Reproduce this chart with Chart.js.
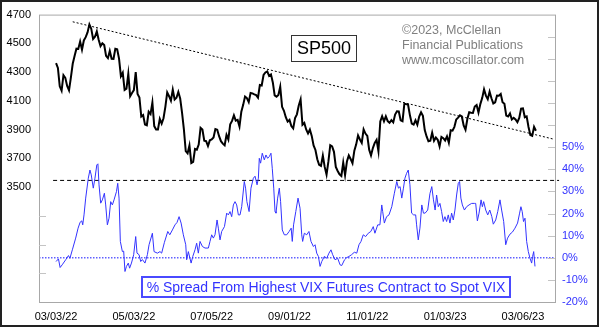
<!DOCTYPE html>
<html>
<head>
<meta charset="utf-8">
<script src="https://cdn.jsdelivr.net/npm/chart.js@4/dist/chart.umd.min.js"></script>
<style>
  html, body { margin: 0; padding: 0; background: #fff; }
  canvas { display: block; }
</style>
</head>
<body>
<canvas id="chart" width="600" height="328"></canvas>
<script>
// x values are trading-day numbers counted from 03/03/22
const tickDays = [0, 42, 84, 126, 168, 210, 252];
const tickLabels = ['03/03/22', '05/03/22', '07/05/22', '09/01/22', '11/01/22', '01/03/23', '03/06/23'];

// SP500 daily close, 03/03/22 .. 03/15/23 (one per trading day)
const spxClose = [
  4363, 4329, 4201, 4171, 4278, 4260, 4204, 4173, 4262, 4358, 4412, 4463, 4461, 4512, 4456, 4520, 4543, 4576, 4632, 4602, 4530,
  4546, 4583, 4525, 4481, 4500, 4488, 4413, 4397, 4447, 4393, 4392, 4462, 4459, 4394, 4272, 4296, 4175, 4184, 4288, 4132,
  4155, 4175, 4300, 4147, 4123, 3991, 4001, 3935, 3930, 4024, 4008, 4089, 3924, 3901, 3901, 3974, 3941, 3979, 4058, 4158, 4132,
  4101, 4177, 4109, 4121, 4161, 4116, 4018, 3901, 3750, 3735, 3790, 3667, 3675, 3765, 3760, 3796, 3912, 3900, 3822, 3819, 3785,
  3825, 3831, 3845, 3903, 3899, 3854, 3819, 3802, 3790, 3863, 3831, 3937, 3960, 3999, 3962, 3967, 3921, 4024, 4072, 4130,
  4119, 4091, 4155, 4152, 4145, 4140, 4122, 4210, 4207, 4280, 4297, 4305, 4274, 4284, 4228, 4138, 4129, 4141, 4199, 4058, 4031, 3986, 3955,
  3967, 3924, 3908, 3980, 4006, 4067, 4110, 3933, 3946, 3901, 3873, 3900, 3856, 3790, 3758, 3693, 3655, 3647, 3719, 3640, 3586,
  3678, 3791, 3783, 3745, 3640, 3612, 3589, 3577, 3670, 3583, 3678, 3720, 3695, 3666, 3753, 3797, 3859, 3831, 3807, 3901, 3872,
  3856, 3760, 3720, 3771, 3807, 3828, 3749, 3956, 3993, 3957, 3992, 3959, 3947, 3965, 3950, 4004, 4027, 4026, 3964, 3958, 4080,
  4077, 4072, 3999, 3941, 3934, 3964, 3934, 3991, 4020, 3995, 3896, 3852, 3818, 3822, 3878, 3822, 3845, 3829, 3783, 3849, 3840,
  3824, 3853, 3808, 3895, 3892, 3919, 3970, 3983, 3999, 3991, 3929, 3899, 3973, 4020, 4017, 4016, 4060, 4071, 4018, 4077,
  4119, 4180, 4136, 4111, 4164, 4118, 4082, 4090, 4137, 4136, 4148, 4090, 4079, 3997, 3991, 4012, 3970, 3982, 3970,
  3951, 3981, 4046, 4048, 3986, 3992, 3918, 3862, 3856, 3919, 3892
];

// % spread, highest VIX futures contract vs spot VIX
const spreadDay = [
  0, 1.3, 2.2, 3.3, 5.2, 6.7, 7.5, 8.8, 10.6, 11.9, 13, 13.9, 14.4, 15.1, 16, 17.4, 18.3, 19, 20.1, 21,
  22, 22.6, 23.2, 24.1, 25, 26.1, 26.8, 27.7, 28.6, 29.5, 30.4, 31.3, 32.6, 33.3, 34, 34.7, 35.8, 36.5, 37.2, 38,
  39, 39.7, 40.7, 41.9, 43, 43.7, 44.8, 45.7, 46.6, 48, 49.3, 50.2, 52, 52.9, 54.7, 56.1, 57, 58.5, 60.3, 61.4,
  62.8, 64.2, 65.3, 66.4, 67.5, 68.7, 70, 70.5, 71.4, 72.9, 73.8, 75, 75.9, 76.8, 77.7, 79, 80.4, 82.2, 83.1, 84,
  84.9, 85.8, 86.9, 87.6, 88.5, 89.4, 90.9, 92.1, 93, 93.9, 94.8, 95.7, 96.6, 97.5, 98.4, 99.3, 100.2, 101.6, 102.3, 103,
  104.2, 105.2, 106.5, 107.4, 108.5, 109.2, 109.7, 110.4, 111.3, 112.4, 113.3, 114.2, 115.1, 116, 116.7, 117.5, 118.2, 118.7, 119.6, 120.5,
  121.2, 122.1, 123.2, 124.5, 125.8, 126.9, 127.5, 128.2, 129.4, 130.6, 131.7, 132.6, 133.1, 134, 135.3, 136.5, 137.6, 138.9, 139.8, 140.7,
  141.6, 142.5, 143.4, 144.8, 146.1, 147.3, 148.4, 149.3, 150.6, 152, 153.3, 154.2, 155.7, 156.9, 158.1, 159.5, 161, 162.3, 163.5, 164.6,
  165.8, 167.1, 168.5, 169.9, 171.2, 172.1, 173.6, 174.8, 175.8, 176.3, 177.2, 178.4, 179.7, 181.2, 182.6, 183.9, 184.8, 185.7, 186.6, 187.5,
  188.3, 189.2, 190.1, 191, 191.9, 193, 194.1, 194.6, 195.5, 196.4, 197.4, 198.3, 199.2, 200.6, 201.8, 202.8, 203.7, 204.6, 205.4, 206.3,
  207.2, 208.1, 209, 209.9, 210.8, 211.7, 212.6, 213.5, 214.4, 215.3, 216.2, 217.1, 217.8, 218.5, 219.3, 220.4, 221.6, 222.9, 224.3, 225.8,
  226.5, 227.4, 228.3, 229.4, 230.1, 230.8, 231.9, 233, 234.1, 235.2, 236, 237.3, 238.4, 239.6, 240.5, 241.6, 242.7, 243.7, 245, 246.3,
  247.7, 249.1, 250.2, 250.9, 251.6, 252.3, 253.1, 254, 254.9, 255.8, 256.7, 257.2, 257.8, 258.5
];
const spreadPct = [
  -1.7, -0.5, -4.4, -3.2, -0.9, 1.0, -0.2, 3.6, 8.9, 13.4, 16.1, 16.7, 14.9, 19.4, 27, 36, 39.7, 37.5, 31.5, 36,
  42, 42.5, 33, 24.7, 26.2, 29.2, 23.9, 14.9, 17.9, 25.4, 23.9, 26.2, 29.9, 33.7, 27, 7.4, 2.8, 3.0, -6.2, -3.9,
  -2.4, -4.7, -2.4, 1.4, 9.6, 2.1, 1.4, -1.7, -0.8, -2.4, 1.4, 5.9, 11.1, 2.8, 2.1, 2.8, 2.1, 7.0, 11.9, 10.4,
  12.6, 14.9, 16, 18.6, 15.7, 10.4, 5.9, -0.9, 2.8, -2.4, 0.6, 3.6, 6.6, 2.1, 7.4, 5.1, 4.4, 4.4, 7.4, 10.4,
  8.9, 10.4, 17.1, 13.4, 8.1, 11.9, 14.1, 20.2, 19.4, 20.9, 18.6, 23.9, 25.4, 23.9, 19.4, 19.4, 23.1, 34.5, 31.5, 25.4,
  20.9, 31.5, 36, 36.9, 33, 36, 45, 42.8, 47.3, 44.3, 46.5, 45, 45.8, 47.3, 40.5, 31.5, 20.9, 20.2, 27, 31.5,
  25.4, 12.6, 10.4, 10.4, 11.9, 13.4, 7.4, 14.9, 20.9, 27, 22.4, 10.4, 7.4, 11.1, 10.4, 11.9, 7.4, 5.1, 5.9, 2.1,
  0.6, -3.9, -1.7, 0.6, -0.2, 2.1, 3.6, 1.4, -0.9, -0.2, -3.2, -3.5, -0.9, 0.1, 0.6, 1.4, 2.5, 2.1, 5.9, 7.4,
  10.4, 9.6, 11.1, 11.9, 14.1, 11.1, 14.9, 14.9, 23.9, 20.9, 15.7, 18.6, 19.4, 23.1, 29.2, 34.5, 31.5, 32.2, 27, 31.5,
  36, 38.2, 39.7, 33, 20.2, 19.4, 19.4, 14.9, 8.1, 13.4, 23.9, 20.2, 20.2, 21.6, 29, 32.2, 26.2, 21.6, 28.4, 23.1,
  24.6, 20.9, 16.4, 18.6, 16.4, 19.4, 15.7, 20.2, 17.1, 21.6, 28.4, 33.7, 34.5, 27, 23.9, 21.6, 23.1, 23.9, 24.6, 24.6,
  24.6, 16.7, 20.2, 26.2, 23.1, 25.4, 21.6, 19.4, 21.6, 18.6, 15.2, 17.1, 20.9, 26.2, 21.6, 16.4, 5.9, 8.9, 10.7, 11.6,
  13.4, 15.7, 20.2, 23.1, 20.9, 16.4, 17.9, 7.4, 2.8, -0.2, -2.4, 0.6, 2.8, -3.9
];

// dotted downtrend line on the SP500
const trendDay = [9, 268];
const trendVal = [4650, 3835];

// 35% reference level and the zero line
const refDay = [-1.6, 271.5];
const refPct = 35;
const zeroPct = 0;

const xMin = -9.2, xMax = 269.3;
const FONT = '"Liberation Sans", Arial, sans-serif';
Chart.defaults.font.family = FONT;

function toPoints(xs, ys) {
  return xs.map((x, i) => ({ x: x, y: Array.isArray(ys) ? ys[i] : ys }));
}

const decor = {
  id: 'decor',
  afterDatasetsDraw(chart) {
    const { ctx, chartArea: a, scales } = chart;
    ctx.save();

    // plot frame
    ctx.strokeStyle = '#a8a8a8';
    ctx.lineWidth = 1;
    ctx.strokeRect(a.left + 0.5, a.top + 0.5, a.right - a.left, a.bottom - a.top);

    // short tick marks drawn inside the frame
    ctx.strokeStyle = '#c4c4c4';
    ctx.beginPath();
    scales.y.ticks.forEach(t => {
      if (t.value > 2700 && t.value < 3500) {
        const y = Math.round(scales.y.getPixelForValue(t.value)) + 0.5;
        ctx.moveTo(a.left, y);
        ctx.lineTo(a.left + 7, y);
      }
    });
    scales.y2.ticks.forEach(t => {
      if (t.value > -20 && t.value < 110) {
        const y = Math.round(scales.y2.getPixelForValue(t.value)) + 0.5;
        ctx.moveTo(a.right - 7, y);
        ctx.lineTo(a.right, y);
      }
    });
    ctx.stroke();

    // SP500 title box
    ctx.fillStyle = '#fff';
    ctx.fillRect(291, 35, 66, 27);
    ctx.strokeStyle = '#333';
    ctx.strokeRect(291.5, 35.5, 65, 26);
    ctx.fillStyle = '#000';
    ctx.font = '18px ' + FONT;
    ctx.textAlign = 'center';
    ctx.textBaseline = 'middle';
    ctx.fillText('SP500', 324, 49);

    // copyright lines
    ctx.fillStyle = '#808080';
    ctx.font = '12.5px ' + FONT;
    ctx.textAlign = 'left';
    ctx.fillText('©2023, McClellan', 402, 31);
    ctx.fillText('Financial Publications', 402, 46);
    ctx.fillText('www.mcoscillator.com', 402, 61);

    // legend box for the blue line
    ctx.fillStyle = '#fff';
    ctx.fillRect(141, 276, 370, 22);
    ctx.strokeStyle = '#4a4aff';
    ctx.lineWidth = 2;
    ctx.strokeRect(142, 277, 368, 20);
    ctx.fillStyle = '#3333ff';
    ctx.font = '14px ' + FONT;
    ctx.textAlign = 'center';
    ctx.fillText('% Spread From Highest VIX Futures Contract to Spot VIX', 326, 288);

    // outer border
    ctx.strokeStyle = '#222';
    ctx.lineWidth = 2;
    ctx.strokeRect(1, 1, 597, 325);
    ctx.restore();
  }
};

new Chart(document.getElementById('chart'), {
  type: 'line',
  data: {
    datasets: [
      {
        label: 'SP500',
        data: toPoints(spxClose.map((v, i) => i), spxClose),
        yAxisID: 'y',
        borderColor: '#000',
        borderWidth: 2,
        pointRadius: 0,
      },
      {
        label: 'trend',
        data: toPoints(trendDay, trendVal),
        yAxisID: 'y',
        borderColor: '#000',
        borderWidth: 1,
        borderDash: [2, 2],
        pointRadius: 0,
      },
      {
        label: 'spread',
        data: toPoints(spreadDay, spreadPct),
        yAxisID: 'y2',
        borderColor: '#3333ff',
        borderWidth: 1,
        pointRadius: 0,
      },
      {
        label: '35%',
        data: toPoints(refDay, refPct),
        yAxisID: 'y2',
        borderColor: '#000',
        borderWidth: 1,
        borderDash: [4, 3],
        pointRadius: 0,
        clip: false,
      },
      {
        label: '0%',
        data: toPoints([xMin, xMax], zeroPct),
        yAxisID: 'y2',
        borderColor: '#6060ff',
        borderWidth: 1.5,
        borderDash: [1.5, 1.5],
        pointRadius: 0,
      },
    ],
  },
  options: {
    responsive: false,
    animation: false,
    layout: { padding: { top: 14, left: 0, right: 0, bottom: 0 } },
    plugins: { legend: { display: false }, tooltip: { enabled: false } },
    scales: {
      x: {
        type: 'linear',
        min: xMin,
        max: xMax,
        afterBuildTicks: s => { s.ticks = tickDays.map(v => ({ value: v })); },
        afterFit: s => { s.height = 26; },
        ticks: {
          callback: v => tickLabels[tickDays.indexOf(v)],
          color: '#000',
          font: { size: 11 },
          padding: 8,
          maxRotation: 0,
          autoSkip: false,
        },
        grid: { display: false, drawTicks: false },
        border: { display: false },
      },
      y: {
        position: 'left',
        min: 2700,
        max: 4700,
        afterFit: s => { s.width = 39; },
        ticks: {
          stepSize: 200,
          callback: v => (v >= 3500 ? String(v) : ''),
          color: '#000',
          font: { size: 11 },
          padding: 8,
        },
        grid: { display: false, drawTicks: false },
        border: { display: false },
      },
      y2: {
        position: 'right',
        min: -20,
        max: 110,
        afterFit: s => { s.width = 45; },
        ticks: {
          stepSize: 10,
          callback: v => (v <= 50 ? v + '%' : ''),
          color: '#3333ff',
          font: { size: 11 },
          padding: 7,
        },
        grid: { display: false, drawTicks: false },
        border: { display: false },
      },
    },
  },
  plugins: [decor],
});
</script>
</body>
</html>
